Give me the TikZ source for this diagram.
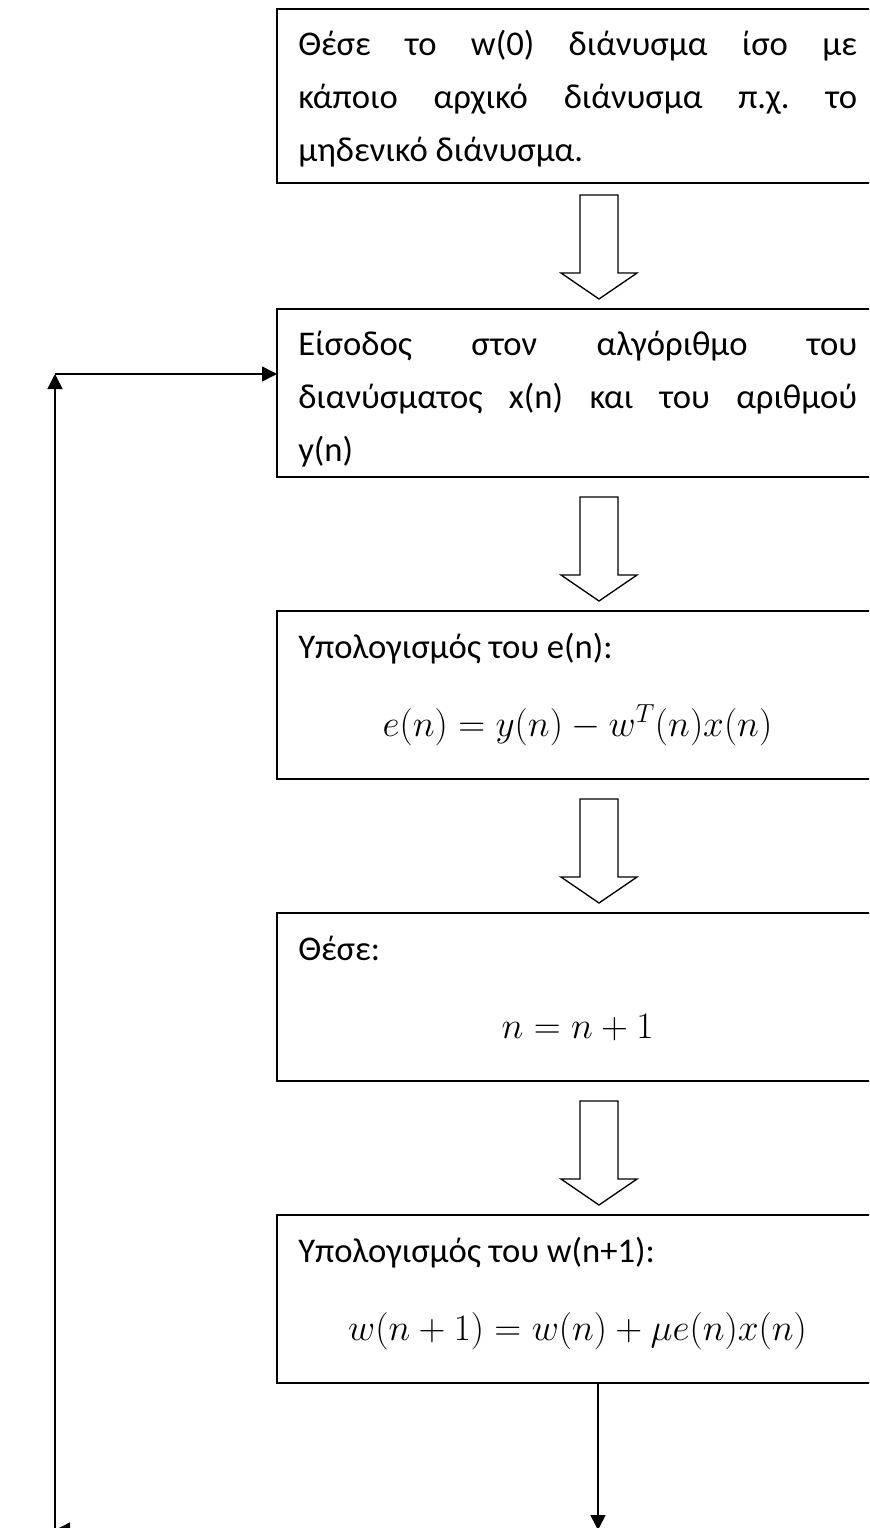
\RequirePackage{fix-cm}
\documentclass[tikz,border=0pt]{standalone}
\usepackage{amsmath}
\usepackage{fontspec}
\setmainfont{Carlito}
\usepackage{tikz}
\usetikzlibrary{arrows.meta}
\frenchspacing

\begin{document}
\begin{tikzpicture}[x=0.75pt,y=0.75pt,yscale=-1,xscale=1,
  flowbox/.style={draw, line width=1pt, inner sep=0pt, outer sep=0pt, anchor=north west, minimum width=450.75pt, minimum height=126pt},
  boxtext/.style={anchor=base west, inner sep=0pt, font=\fontsize{26}{39.75}\selectfont},
  formula/.style={anchor=base, inner sep=0pt, font=\fontsize{28}{39.75}\selectfont},
  flowline/.style={line width=1.1pt, -{Triangle[length=11.25pt,width=11.25pt]}},
  blockarrow/.style={line width=1pt, line join=miter, fill=white}]
\useasboundingbox (0,0) rectangle (869,1528);
\clip (0,0) rectangle (869,1528);

% boxes
\node[flowbox, minimum height=130.5pt] (init) at (277,9) {};
\node[flowbox] (input) at (277,309) {};
\node[flowbox] (err) at (277,611) {};
\node[flowbox] (incr) at (277,913) {};
\node[flowbox] (update) at (277,1215) {};

% texts
\node[boxtext] (init text) at (298,55) {\parbox[t]{419.25pt}{Θέσε το w(0) διάνυσμα ίσο με\linebreak κάποιο αρχικό διάνυσμα π.χ. το\linebreak μηδενικό διάνυσμα.}};
\node[boxtext] (input text) at (298,355) {\parbox[t]{419.25pt}{Είσοδος στον αλγόριθμο του\linebreak διανύσματος x(n) και του αριθμού\linebreak y(n)}};
\node[boxtext] (err text) at (298,658) {Υπολογισμός του e(n):};
\node[formula] (err formula) at (577.5,736) {$e(n) = y(n) - w^{T}(n)x(n)$};
\node[boxtext] (incr text) at (298,960) {Θέσε:};
\node[formula] (incr formula) at (577.5,1038) {$n = n + 1$};
\node[boxtext] (update text) at (298,1262) {Υπολογισμός του w(n+1):};
\node[formula] (update formula) at (577.5,1340) {$w(n + 1) = w(n) + \mu e(n)x(n)$};

% block arrows
\foreach \b in {input,err,incr,update}{
  \begin{scope}[shift={(\b.north west)}]
    \draw[blockarrow] (303,-114) -- (341,-114) -- (341,-36) -- (360,-36) -- (322,-10) -- (284,-36) -- (303,-36) -- cycle;
  \end{scope}
}

% loop back
\coordinate (loop top) at (55,374);
\coordinate (loop bottom) at (55,1530);
\coordinate (down end) at (598,1530);
\draw[flowline] (update.south west -| down end) -- (down end);
\draw[flowline] (down end) -- (loop bottom);
\draw[flowline] (loop bottom) -- (loop top);
\draw[flowline] (loop top) -- (loop top -| input.west);
\end{tikzpicture}
\end{document}
